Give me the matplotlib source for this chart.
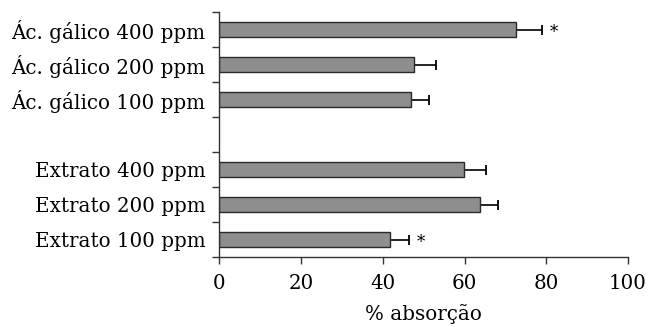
import matplotlib.pyplot as plt
import numpy as np

# groups, top to bottom, separated by an empty slot
galico_labels = ["Ác. gálico 400 ppm", "Ác. gálico 200 ppm", "Ác. gálico 100 ppm"]
galico_values = [72.7, 47.6, 46.9]
galico_errors = [6.2, 5.3, 4.3]

extrato_labels = ["Extrato 400 ppm", "Extrato 200 ppm", "Extrato 100 ppm"]
extrato_values = [59.9, 63.7, 41.8]
extrato_errors = [5.3, 4.5, 4.5]

# significance marks: (label, x position)
stars = {"Ác. gálico 400 ppm": 82.0, "Extrato 100 ppm": 49.4}

labels = galico_labels + [""] + extrato_labels
values = galico_values + [np.nan] + extrato_values
errors = galico_errors + [np.nan] + extrato_errors
pos = np.arange(len(labels))

plt.rcParams["font.family"] = "DejaVu Serif"
fs = 14.3

fig = plt.figure(figsize=(6.54, 3.27), dpi=100)
ax = fig.add_axes([0.3356, 0.214, 0.6245, 0.749])

ax.barh(pos, values, height=0.42, color="#8e8e8e", edgecolor="#2a2a2a",
        linewidth=1.0, zorder=2)
errs = np.array(errors)
ax.errorbar(values, pos, xerr=[np.zeros_like(errs), errs], fmt="none",
            ecolor="black", elinewidth=1.2, capsize=3.8, capthick=1.3, zorder=1)

for lab, x in stars.items():
    ax.text(x, labels.index(lab) + 0.08, "*", ha="center", va="center", fontsize=12)

ax.set_ylim(len(labels) - 0.5, -0.5)
ax.set_xlim(0, 100)
ax.set_xticks(range(0, 101, 20))
ax.set_yticks(pos)
ax.set_yticklabels(labels)
ax.set_yticks(np.arange(-0.5, len(labels), 1.0), minor=True)
ax.tick_params(axis="y", which="major", length=0, pad=10, labelsize=fs)
ax.tick_params(axis="y", which="minor", length=5, width=1, color="#333333")
ax.tick_params(axis="x", length=5, width=1, color="#333333", labelsize=fs, pad=7)

for s in ["top", "right"]:
    ax.spines[s].set_visible(False)
for s in ["left", "bottom"]:
    ax.spines[s].set_color("#333333")
    ax.spines[s].set_linewidth(1.0)

ax.set_xlabel("% absorção", fontsize=fs, labelpad=8)

fig.savefig("out.png", dpi=100)
